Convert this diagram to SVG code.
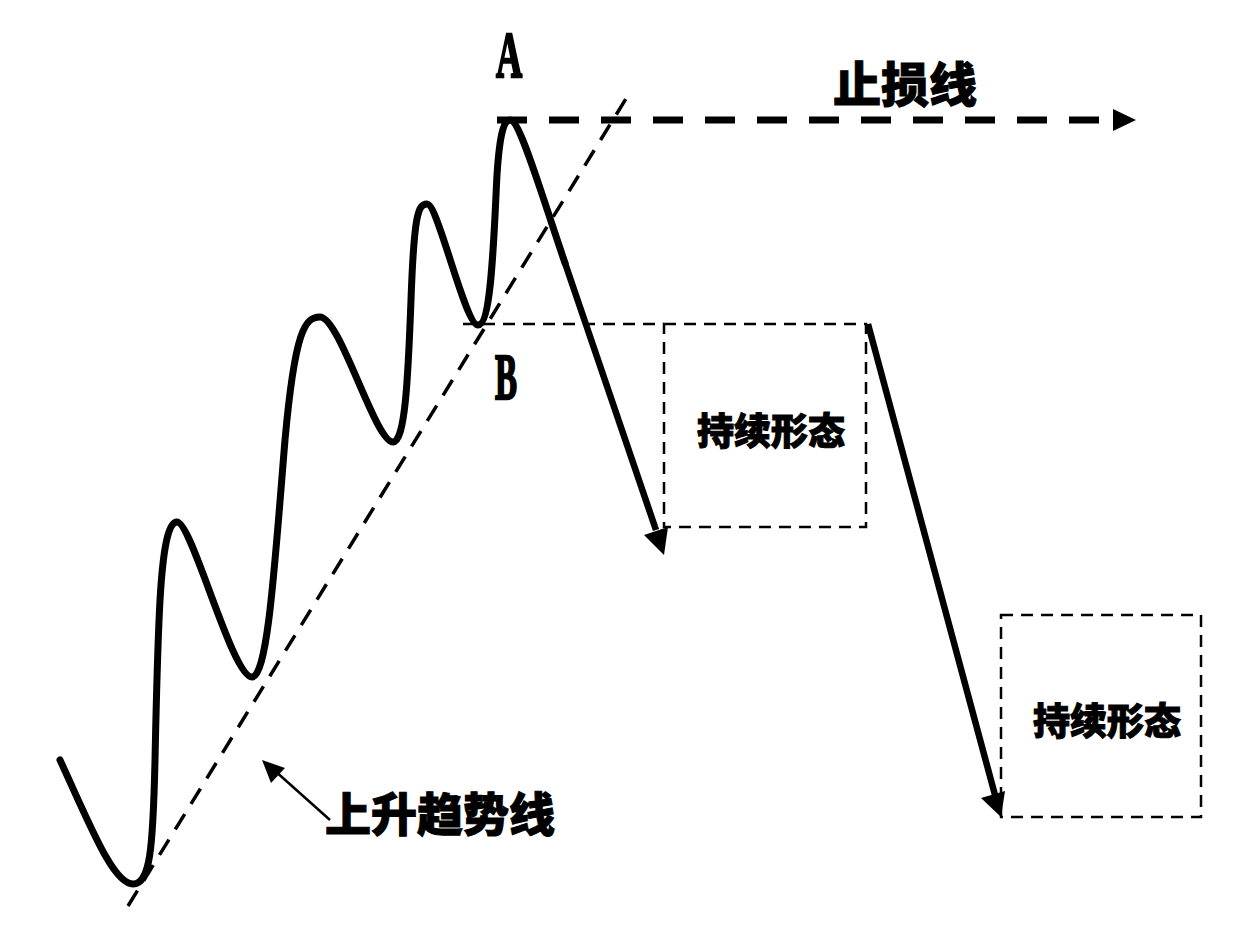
<svg xmlns="http://www.w3.org/2000/svg" width="1255" height="933" viewBox="0 0 1255 933">
<style>
.wave{fill:none;stroke:#000;stroke-width:7;stroke-linejoin:round;stroke-linecap:round}
.trend{fill:none;stroke:#000;stroke-width:3.5;stroke-dasharray:18 12}
.thin{fill:none;stroke:#000;stroke-width:2.5;stroke-dasharray:12 8}
.stop{fill:none;stroke:#000;stroke-width:7;stroke-dasharray:30 22}
.arr{fill:none;stroke:#000;stroke-width:6.5}
.cjk{font-family:"Noto Sans CJK SC","Noto Sans CJK TC",sans-serif;font-weight:900;fill:#000;stroke:#000;stroke-width:1;text-anchor:middle}
.lat{font-family:"Liberation Serif",serif;font-weight:bold;fill:#000;stroke:#000;stroke-width:2.5;text-anchor:middle;font-size:66px}
</style>
<rect width="1255" height="933" fill="#fff"/>
<g id="connectors">
<path id="trendline" class="trend" d="M128,906 L632,89"/>
<path id="stoploss" class="stop" d="M497,120 L1104,120"/>
<polygon points="1113,109 1136,120 1113,131" fill="#000"/>
<path class="thin" d="M463,324 L664,324"/>
<path id="wave" class="wave" d="M60,760 C90,825 113,884 133,884 C150,884 153,850 155,760 C158,620 160,522 177,522 C192,522 232,677 252,677 C268,677 275,560 285,440 C295,330 305,317 320,317 C340,317 375,442 393,442 C405,442 408,380 411,300 C414,215 418,204 427,204 C438,204 465,325 478,325 C492,325 494,230 497,175 C500,128 505,120 510,120 C520,120 540,190 565,263"/>
<path class="arr" d="M565,263 L656,530"/>
<polygon points="664,555 644,535 668,527" fill="#000"/>
<path class="arr" d="M868,324 L995,795"/>
<polygon points="1001,817 981,798 1005,791" fill="#000"/>
<path class="arr" d="M330,820 L274,770" style="stroke-width:2.5"/>
<polygon points="262,760 285,768 271,783" fill="#000"/>
</g>
<g id="labelA"><text class="lat" transform="translate(509,77) scale(0.55,1)">A</text></g>
<g id="labelB"><text class="lat" transform="translate(506,399) scale(0.5,1)">B</text></g>
<g id="stoplabel"><text class="cjk" x="905" y="102" font-size="48">止损线</text></g>
<g id="trendlabel"><text class="cjk" x="440" y="831" font-size="46">上升趋势线</text></g>
<g id="box1">
<rect class="thin" x="664" y="324" width="202" height="203"/>
<text class="cjk" x="771" y="445" font-size="37">持续形态</text>
</g>
<g id="box2">
<rect class="thin" x="1001" y="615" width="200" height="202"/>
<text class="cjk" x="1107" y="735" font-size="37">持续形态</text>
</g>
</svg>
